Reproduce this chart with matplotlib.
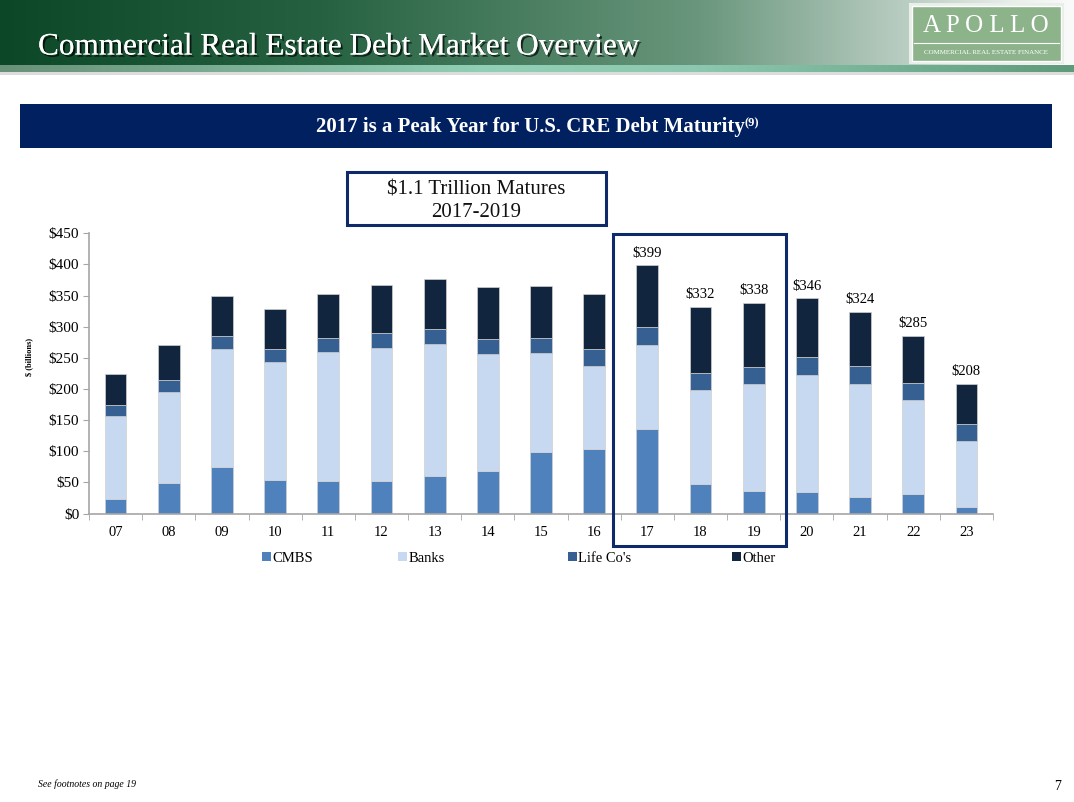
import numpy as np
import matplotlib
matplotlib.use('Agg')
import matplotlib.pyplot as plt
import matplotlib.patheffects as pe
from matplotlib.patches import Rectangle, Patch

# Data ($ billions)
years = ['07', '08', '09', '10', '11', '12', '13', '14', '15', '16',
         '17', '18', '19', '20', '21', '22', '23']
cmbs = [24, 49, 75, 54, 52, 52, 60, 68, 98, 103, 135, 47, 36, 34, 26, 31, 11]
banks = [133, 146, 189, 189, 207, 214, 212, 188, 159, 134, 136, 152, 172, 189, 182, 151, 106]
life = [18, 19, 21, 21, 23, 24, 25, 24, 25, 27, 28, 27, 27, 28, 29, 27, 27]
other = [49, 56, 65, 65, 70, 77, 80, 84, 84, 89, 100, 106, 103, 95, 87, 76, 64]
labelled = ['17', '18', '19', '20', '21', '22', '23']
totals = [399, 332, 338, 346, 324, 285, 208]

series = ['CMBS', 'Banks', "Life Co's", 'Other']
colors = ['#4f81bd', '#c6d9f1', '#376092', '#12253f']

plt.rcParams['font.family'] = ['Liberation Serif', 'DejaVu Serif']

W, H = 1074, 802
fig = plt.figure(figsize=(W / 100, H / 100), dpi=100)

# background / decoration axes in pixel coordinates
bg = fig.add_axes([0, 0, 1, 1], zorder=0)
bg.set_xlim(0, W)
bg.set_ylim(H, 0)
bg.axis('off')

# header gradient
xs = np.linspace(0, 1, 400)
stops = [0, 0.3, 0.65, 0.85, 0.95, 1.0]
cols = np.array([[12, 72, 40], [38, 98, 66], [105, 150, 124], [188, 207, 196], [235, 240, 236], [250, 250, 250]]) / 255
grad = np.stack([np.interp(xs, stops, cols[:, i]) for i in range(3)], axis=-1)[None, :, :]
bg.imshow(grad, extent=(0, W, 65, 0), aspect='auto', zorder=0)
stops2 = [0, 0.45, 0.65, 1.0]
cols2 = np.array([[105, 145, 120], [145, 208, 182], [140, 200, 175], [95, 155, 122]]) / 255
grad2 = np.stack([np.interp(xs, stops2, cols2[:, i]) for i in range(3)], axis=-1)[None, :, :]
bg.imshow(grad2, extent=(0, W, 72, 65), aspect='auto', zorder=0)
bg.add_patch(Rectangle((0, 72), W, 3, color='#dcdcdc', lw=0, zorder=0))
bg.set_xlim(0, W)
bg.set_ylim(H, 0)

bg.text(38, 47, 'Commercial Real Estate Debt Market Overview', color='white',
        fontsize=22.5, va='center', ha='left',
        path_effects=[pe.withSimplePatchShadow(offset=(1.5, -1.5), shadow_rgbFace='black', alpha=0.7), pe.Normal()])

# logo
bg.add_patch(Rectangle((909, 3), 155, 61, facecolor='#e8eee9', edgecolor='none', zorder=1))
bg.add_patch(Rectangle((912, 6), 149, 55, facecolor='#8db38b', edgecolor='white', lw=1, zorder=2))
bg.text(986, 26, 'A P O L L O', color='white', fontsize=18, ha='center', va='center', zorder=3)
bg.plot([914, 1059], [43, 43], color='white', lw=0.8, zorder=3)
bg.text(986, 52, 'COMMERCIAL REAL ESTATE FINANCE', color='white', fontsize=5, ha='center', va='center', zorder=3)

# banner
bg.add_patch(Rectangle((20, 104), 1032, 44, facecolor='#002060', edgecolor='none'))
main = bg.text(530, 127, '2017 is a Peak Year for U.S. CRE Debt Maturity', color='white',
               fontsize=15, fontweight='bold', ha='center', va='center')
bg.annotate('(9)', xy=(1, 1), xycoords=main, color='white', fontsize=9,
            fontweight='bold', ha='left', va='top')

# callout box
bg.add_patch(Rectangle((347, 172), 259, 53, facecolor='white', edgecolor='#0f2a6b', lw=2.2))
bg.text(476, 201, '$1.1 Trillion Matures\n2017-2019', fontsize=15, ha='center', va='center',
        linespacing=1.25, color='#111111')

bg.text(29, 357, '$ (billions)', rotation=90, fontsize=6, fontweight='bold', ha='center', va='center')
bg.text(38, 784, 'See footnotes on page 19', fontsize=7, style='italic', ha='left', va='center')
bg.text(1058, 787, '7', fontsize=10, ha='center', va='center')

# chart
ax = fig.add_axes([89 / W, 1 - 513.5 / H, (993 - 89) / W, (513.5 - 233.3) / H], zorder=2)
ax.patch.set_alpha(0)
x = np.arange(len(years))
bottom = np.zeros(len(years))
for name, vals, c in zip(series, [cmbs, banks, life, other], colors):
    ax.bar(x, vals, 0.41, bottom=bottom, color=c, edgecolor='#d0d0d0', linewidth=0.5, label=name)
    bottom += np.array(vals)

for yr, t in zip(labelled, totals):
    ax.annotate('${}'.format(t), xy=(years.index(yr), t), xytext=(0, 4), textcoords='offset points',
                ha='center', va='bottom', fontsize=10.5)

ax.set_xlim(-0.5, len(years) - 0.5)
ax.set_ylim(0, 450)
ax.set_yticks(range(0, 451, 50))
ax.set_yticklabels(['${}'.format(v) for v in range(0, 451, 50)], fontsize=11)
ax.set_xticks(x)
ax.set_xticklabels(years, fontsize=10.5)
ax.set_xticks(np.arange(-0.5, len(years)), minor=True)
ax.tick_params(axis='x', which='major', length=0, pad=9)
ax.tick_params(axis='x', which='minor', length=4, direction='out', color='#a6a6a6')
ax.tick_params(axis='y', length=4, color='#a6a6a6', pad=3)
for s in ['top', 'right']:
    ax.spines[s].set_visible(False)
for s in ['left', 'bottom']:
    ax.spines[s].set_color('#a6a6a6')
    ax.spines[s].set_linewidth(1.2)

# legend entries spread like the original
legend_x = [262, 398, 568, 732]
for name, c, lx in zip(series, colors, legend_x):
    leg = fig.legend(handles=[Patch(facecolor=c, edgecolor='none')], labels=[name],
                     loc='center left', bbox_to_anchor=(lx / W, 1 - 558 / H), frameon=False,
                     fontsize=10.5, handlelength=0.6, handleheight=0.6, handletextpad=0.1,
                     borderpad=0, borderaxespad=0)

# highlight box for 2017-2019
fg = fig.add_axes([0, 0, 1, 1], zorder=3)
fg.set_xlim(0, W)
fg.set_ylim(H, 0)
fg.axis('off')
fg.patch.set_alpha(0)
fg.add_patch(Rectangle((613, 234), 173, 312, facecolor='none', edgecolor='#0f2a6b', lw=2.2))

fig.savefig('out.png', dpi=100)
